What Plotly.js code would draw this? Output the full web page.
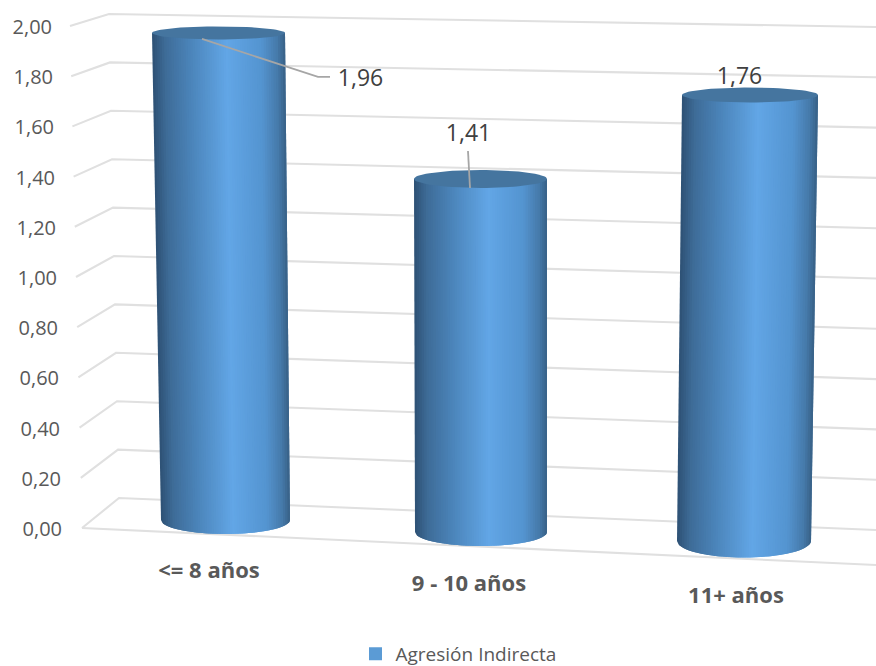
<!DOCTYPE html>
<html>
<head>
<meta charset="utf-8">
<script src="https://cdn.plot.ly/plotly-3.0.1.min.js"></script>
<style>html,body{margin:0;padding:0;background:#fff;overflow:hidden}#frame{width:876px;height:666px;overflow:hidden}#chart{width:876px}</style>
</head>
<body>
<div id="frame"><div id="chart"></div></div>
<script>
// ---- data ----
const categories = ['<= 8 años', '9 - 10 años', '11+ años'];
const values = [1.96, 1.41, 1.76];
const valueLabels = ['1,96', '1,41', '1,76'];
const seriesName = 'Agresión Indirecta';
const tickValues = [0, 0.2, 0.4, 0.6, 0.8, 1.0, 1.2, 1.4, 1.6, 1.8, 2.0];
const tickLabels = ['0,00', '0,20', '0,40', '0,60', '0,80', '1,00', '1,20', '1,40', '1,60', '1,80', '2,00'];

// ---- 3D look: how the tilted box and cylinders are placed on the flat axes ----
const W = 876, H = 706, PX0 = 527, PXU = 250.5;
const toY = p => (PX0 - p) / PXU;
const mix = (a, b, t) => a + (b - a) * t;
const box = {
  frontX: [82, 70], frontY: [528, 26],
  backX: [119, 109], backY: [498, 14],
  rightBackY: [530, 27], rightFrontY: [565, 565]
};
const geom = {
  baseP: [520, 532, 541], unitPx: [248.5, 250.4, 253.4],
  cxB: [225.5, 481, 744], hwB: [64.5, 66, 67], rB: [14, 14, 16.5],
  cxT: [218.5, 480.5, 750], hwT: [66.5, 66.5, 68], rT: [6.5, 9, 7.5]
};
const stops = [[0, [45, 80, 116]], [0.1, [62, 108, 152]], [0.3, [76, 134, 188]], [0.56, [98, 166, 230]],
               [0.82, [84, 148, 208]], [0.94, [70, 122, 170]], [1, [56, 96, 134]]];
const capColor = '#45759f';
function grad(t) {
  for (let i = 1; i < stops.length; i++) {
    if (t <= stops[i][0]) {
      const f = (t - stops[i - 1][0]) / (stops[i][0] - stops[i - 1][0]);
      const c = stops[i - 1][1].map((v, k) => Math.round(mix(v, stops[i][1][k], f)));
      return 'rgb(' + c.join(',') + ')';
    }
  }
  return 'rgb(56,96,134)';
}

const traces = [];
const gridStyle = {color: '#e0e0e0', width: 2.1};
function lineTrace(xs, ys, line) {
  traces.push({type: 'scatter', mode: 'lines', x: xs, y: ys, line: line, showlegend: false, hoverinfo: 'skip'});
}
function textTrace(xs, ys, texts, pos, font) {
  traces.push({type: 'scatter', mode: 'text', x: xs, y: ys, text: texts, textposition: pos, textfont: font,
               showlegend: false, hoverinfo: 'skip', cliponaxis: false});
}

// wall + side gridlines, one for each axis tick
tickValues.forEach(v => {
  const u = v / 2;
  const fx = mix(box.frontX[0], box.frontX[1], u), fy = mix(box.frontY[0], box.frontY[1], u);
  const bx = mix(box.backX[0], box.backX[1], u), by = mix(box.backY[0], box.backY[1], u);
  const ry = mix(box.rightBackY[0], box.rightBackY[1], u);
  lineTrace([fx, bx, W], [toY(fy), toY(by), toY(ry)], gridStyle);
});
// front floor edge
lineTrace([box.frontX[0], W], [toY(box.frontY[0]), toY(box.rightFrontY[0])], gridStyle);

// cylinders
const N = 56, ARC = 6;
values.forEach((val, b) => {
  const g = geom;
  const base = g.baseP[b], topP = base - val * g.unitPx[b];
  for (let s = 0; s < N; s++) {
    const t0 = s / N, t1 = Math.min(1, (s + 2) / N);
    const xs = [], ys = [];
    for (let k = 0; k <= ARC; k++) {
      const t = mix(t0, t1, k / ARC), c = 2 * t - 1;
      xs.push(g.cxB[b] + g.hwB[b] * c);
      ys.push(toY(base + g.rB[b] * Math.sqrt(Math.max(0, 1 - c * c))));
    }
    xs.push(g.cxT[b] + g.hwT[b] * (2 * t1 - 1), g.cxT[b] + g.hwT[b] * (2 * t0 - 1));
    ys.push(toY(topP), toY(topP));
    traces.push({type: 'scatter', mode: 'lines', x: xs, y: ys, fill: 'toself', fillcolor: grad((s + 0.5) / N),
                 line: {width: 0}, showlegend: false, hoverinfo: 'skip'});
  }
  const cx = [], cy = [];
  for (let k = 0; k <= 72; k++) {
    const a = k / 72 * 2 * Math.PI;
    cx.push(g.cxT[b] + g.hwT[b] * Math.cos(a));
    cy.push(toY(topP + g.rT[b] * Math.sin(a)));
  }
  traces.push({type: 'scatter', mode: 'lines', x: cx, y: cy, fill: 'toself', fillcolor: capColor,
               line: {width: 0}, showlegend: false, hoverinfo: 'skip'});
});

// leader lines, anchored relative to each cylinder top
const leaderStyle = {color: '#a6a6a6', width: 1.8};
const topP = b => geom.baseP[b] - values[b] * geom.unitPx[b];
lineTrace([202, 318, 330], [toY(topP(0) + 6), toY(topP(0) + 44), toY(topP(0) + 44)], leaderStyle);
lineTrace([470, 468], [toY(topP(1) + 9), toY(topP(1) - 28)], leaderStyle);
lineTrace([732, 733], [toY(topP(2) - 8), toY(topP(2) - 10)], leaderStyle);

// data labels
const labelFont = {family: '"Open Sans", sans-serif', size: 23, color: '#404040'};
textTrace([360.5, 468.5, 739.5], [toY(topP(0) + 47), toY(topP(1) - 44), toY(topP(2) - 17)],
          valueLabels, 'middle center', labelFont);

// value labels on the tilted axis
const tickFont = {family: '"Open Sans", sans-serif', size: 20, color: '#595959'};
textTrace(tickValues.map(v => mix(62, 52, v / 2)), tickValues.map(v => toY(mix(531, 29, v / 2))),
          tickLabels, 'middle left', tickFont);

// category labels
const catFont = {family: '"Open Sans", sans-serif', size: 22, color: '#595959', weight: 700};
textTrace([209, 469, 736], [toY(572), toY(585), toY(597)], categories, 'middle center', catFont);

// legend entry
traces.push({type: 'scatter', mode: 'markers', x: [null], y: [null], name: seriesName,
             marker: {symbol: 'square', size: 13, color: '#5b9bd5'}, showlegend: true, hoverinfo: 'skip'});

const layout = {
  width: W, height: H,
  margin: {l: 0, r: 0, t: 0, b: 0},
  paper_bgcolor: '#ffffff', plot_bgcolor: '#ffffff',
  xaxis: {range: [0, W], visible: false, fixedrange: true},
  yaxis: {range: [toY(H), toY(0)], visible: false, fixedrange: true},
  showlegend: true,
  legend: {orientation: 'h', x: 0.5234, xanchor: 'center', y: 1 - 654 / H, yanchor: 'middle',
           bgcolor: 'rgba(0,0,0,0)', font: {family: '"Open Sans", sans-serif', size: 19, color: '#595959'}}
};
Plotly.newPlot('chart', traces, layout, {displayModeBar: false, staticPlot: true});
</script>
</body>
</html>
